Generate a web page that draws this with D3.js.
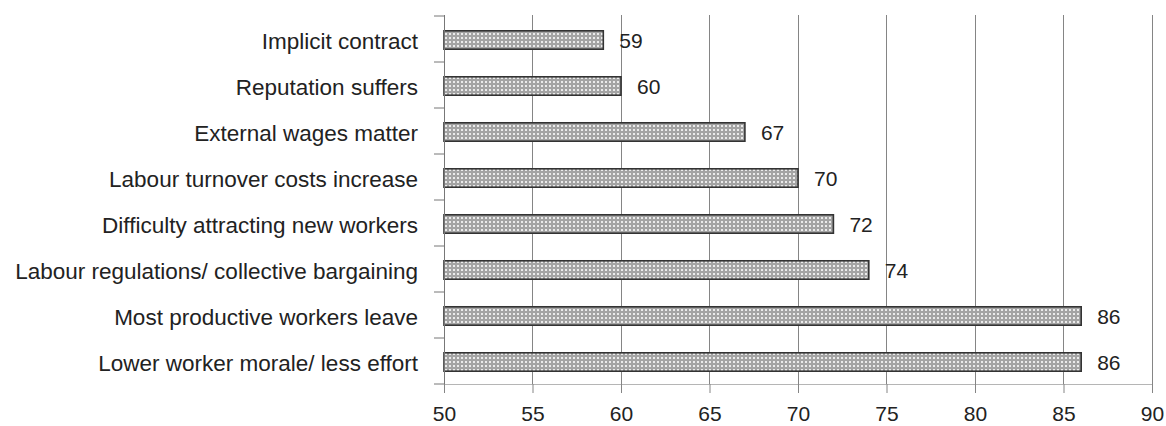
<!DOCTYPE html>
<html><head><meta charset="utf-8">
<script src="https://cdn.jsdelivr.net/npm/d3@7"></script>
<style>body{margin:0;background:#fff}svg{display:block}</style>
</head><body><svg id="c" width="1166" height="426"></svg>
<script>
const categories = ["Implicit contract","Reputation suffers","External wages matter","Labour turnover costs increase","Difficulty attracting new workers","Labour regulations/ collective bargaining","Most productive workers leave","Lower worker morale/ less effort"];
const values = [59,60,67,70,72,74,86,86];
const xTicks = [50,55,60,65,70,75,80,85,90];

const svg = d3.select("#c");
const defs = svg.append("defs");
const pat = defs.append("pattern").attr("id","dots").attr("patternUnits","userSpaceOnUse").attr("width",4).attr("height",4);
pat.append("rect").attr("width",4).attr("height",4).attr("fill","#a4a4a4");
pat.append("rect").attr("x",1).attr("y",1).attr("width",2).attr("height",2).attr("fill","#ebebeb");

const mLeft = 444, mRight = 1152, mTop = 15, mBottom = 384;
const bandTop = 17, bandBottom = 385;
const FONT = "'Liberation Sans',Arial,sans-serif";
const x = d3.scaleLinear().domain([50,90]).range([mLeft,mRight]);
const y = d3.scaleBand().domain(categories).range([bandTop,bandBottom]).paddingInner(0.6).paddingOuter(0.3);
const yb = d3.scaleBand().domain(categories).range([bandTop,bandBottom]);

// gridlines
svg.append("g").selectAll("line").data(xTicks.slice(1)).join("line")
  .attr("x1",d=>x(d)).attr("x2",d=>x(d)).attr("y1",mTop).attr("y2",mBottom)
  .attr("stroke","#858585").attr("stroke-width",1).attr("shape-rendering","crispEdges");

// bottom axis
const xa = svg.append("g").attr("transform",`translate(0,${mBottom})`)
  .call(d3.axisBottom(x).tickValues(xTicks).tickSize(9).tickPadding(13));
xa.select(".domain").attr("stroke","#b5b5b5");
xa.selectAll(".tick line").attr("stroke","#858585");
xa.selectAll("text").attr("font-family",FONT).attr("font-size",21).attr("fill","#222");

// bars
svg.append("g").selectAll("rect").data(values).join("rect")
  .attr("x",x(50)).attr("y",(d,i)=>y(categories[i]))
  .attr("width",d=>x(d)-x(50)).attr("height",y.bandwidth())
  .attr("fill","url(#dots)").attr("stroke","#333").attr("stroke-width",1.6);

// left axis
svg.append("line").attr("x1",mLeft).attr("x2",mLeft).attr("y1",mTop).attr("y2",mBottom)
  .attr("stroke","#777").attr("shape-rendering","crispEdges");
const ya = svg.append("g").attr("transform",`translate(${mLeft},0)`)
  .call(d3.axisLeft(yb).tickSize(0).tickPadding(26));
ya.select(".domain").remove();
ya.selectAll("text").attr("font-family",FONT).attr("font-size",22.5).attr("fill","#222").attr("dy","0.38em");
svg.append("g").selectAll("line").data(d3.range(categories.length+1)).join("line")
  .attr("x1",mLeft-10).attr("x2",mLeft)
  .attr("y1",i=>bandTop-1+i*yb.step()).attr("y2",i=>bandTop-1+i*yb.step())
  .attr("stroke","#777");

// value labels
svg.append("g").selectAll("text").data(values).join("text")
  .attr("x",d=>x(d)+16).attr("y",(d,i)=>yb(categories[i])+yb.bandwidth()/2)
  .attr("dy","0.38em").text(d=>d)
  .attr("font-family",FONT).attr("font-size",21).attr("fill","#222");
</script></body></html>
